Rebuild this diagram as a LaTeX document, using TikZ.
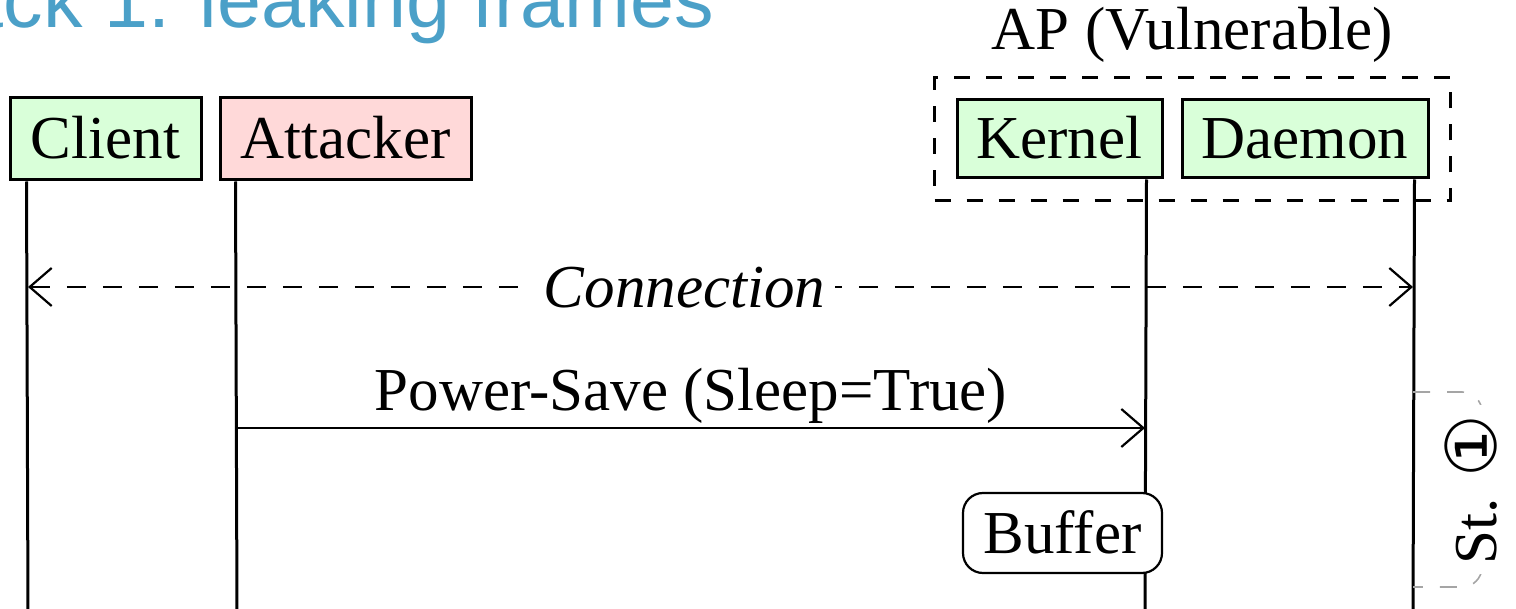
\documentclass[tikz,border=0pt]{standalone}
\usepackage{fontspec}
\setmainfont{Liberation Serif}
\newfontfamily\titlefont{Liberation Sans}
\newfontfamily\symfont{DejaVu Sans}
\usetikzlibrary{arrows.meta,fit}
\definecolor{titleblue}{RGB}{75,160,200}
\definecolor{boxgreen}{RGB}{217,255,217}
\definecolor{boxpink}{RGB}{255,217,217}
\definecolor{brgray}{RGB}{165,165,165}
\begin{document}
\begin{tikzpicture}[x=0.5pt,y=-0.5pt,
  every node/.style={font=\fontsize{30.5}{36}\selectfont},
  capcentered/.style={text height=20pt, text depth=0pt},
  actor/.style={draw, line width=1.5pt, capcentered, inner sep=0pt},
  life/.style={line width=1.5pt},
  msg/.style={line width=1.1pt, -{Straight Barb[length=11pt,width=19pt]}},
  conn/.style={line width=1.1pt, dash pattern=on 9.5pt off 8.5pt, {Straight Barb[length=11pt,width=19pt]}-{Straight Barb[length=11pt,width=19pt]}},
  bracketline/.style={draw=brgray, line width=0.8pt, dash pattern=on 8.5pt off 8.5pt, rounded corners=10pt}
]
\useasboundingbox (0,0) rectangle (1516,609);
\clip (0,0) rectangle (1516,609);

% title
\node[anchor=base east, inner sep=0pt, font=\fontsize{39.5}{44}\titlefont, text=titleblue] (title) at (714,28) {Attack 1: leaking frames};

% participants
\node[actor, fill=boxgreen, minimum width=95.5pt, minimum height=41pt] (client) at (105.5,139) {Client};
\node[actor, fill=boxpink, minimum width=125.5pt, minimum height=41pt] (attacker) at (345.5,139) {Attacker};
\node[actor, fill=boxgreen, minimum width=102.5pt, minimum height=39pt] (kernel) at (1059.5,139) {Kernel};
\node[actor, fill=boxgreen, minimum width=123pt, minimum height=39pt] (daemon) at (1305,139) {Daemon};
\node[draw, line width=1.1pt, dash pattern=on 8pt off 8pt, inner sep=10.5pt, fit=(kernel)(daemon)] (ap) {};
\node[anchor=base] (aplabel) at ([yshift=13.5pt]ap.north) {AP (Vulnerable)};

% lifelines
\coordinate (cl) at (28,612);
\coordinate (al) at (237,612);
\coordinate (kl) at (1145,612);
\coordinate (dl) at (1413,612);
\draw[life] ([xshift=9pt]client.south west) -- (cl);
\draw[life] ([xshift=8.5pt]attacker.south west) -- (al);
\draw[life] ([xshift=-8.5pt]kernel.south east) -- (kl);
\draw[life] ([xshift=-7.5pt]daemon.south east) -- (dl);

% messages
\draw[conn] (cl |- 0,287) -- node[pos=0.474, fill=white, inner xsep=5pt, inner ysep=2pt, capcentered, font=\fontsize{30.5}{36}\selectfont\itshape] (connlabel) {Connection} (dl |- 0,287);
\draw[msg] (al |- 0,428) -- node[midway, anchor=base, yshift=9pt] (pslabel) {Power-Save (Sleep=True)} (kl |- 0,428);

% buffer
\node[draw, fill=white, rounded corners=10pt, line width=1.1pt, minimum width=99.5pt, minimum height=40pt, capcentered, inner sep=0pt] (buffer) at (1062.5,533) {Buffer};

% stage bracket
\draw[bracketline] (dl |- 0,392) -- ++(69,0) -- ++(0,195) -- (dl |- 0,587);
\node[rotate=90, fill=white, inner xsep=5pt, inner ysep=3pt, capcentered] (stage) at (1476,489.5) {St. {\symfont\fontsize{35}{36}\selectfont ①}};
\end{tikzpicture}
\end{document}
